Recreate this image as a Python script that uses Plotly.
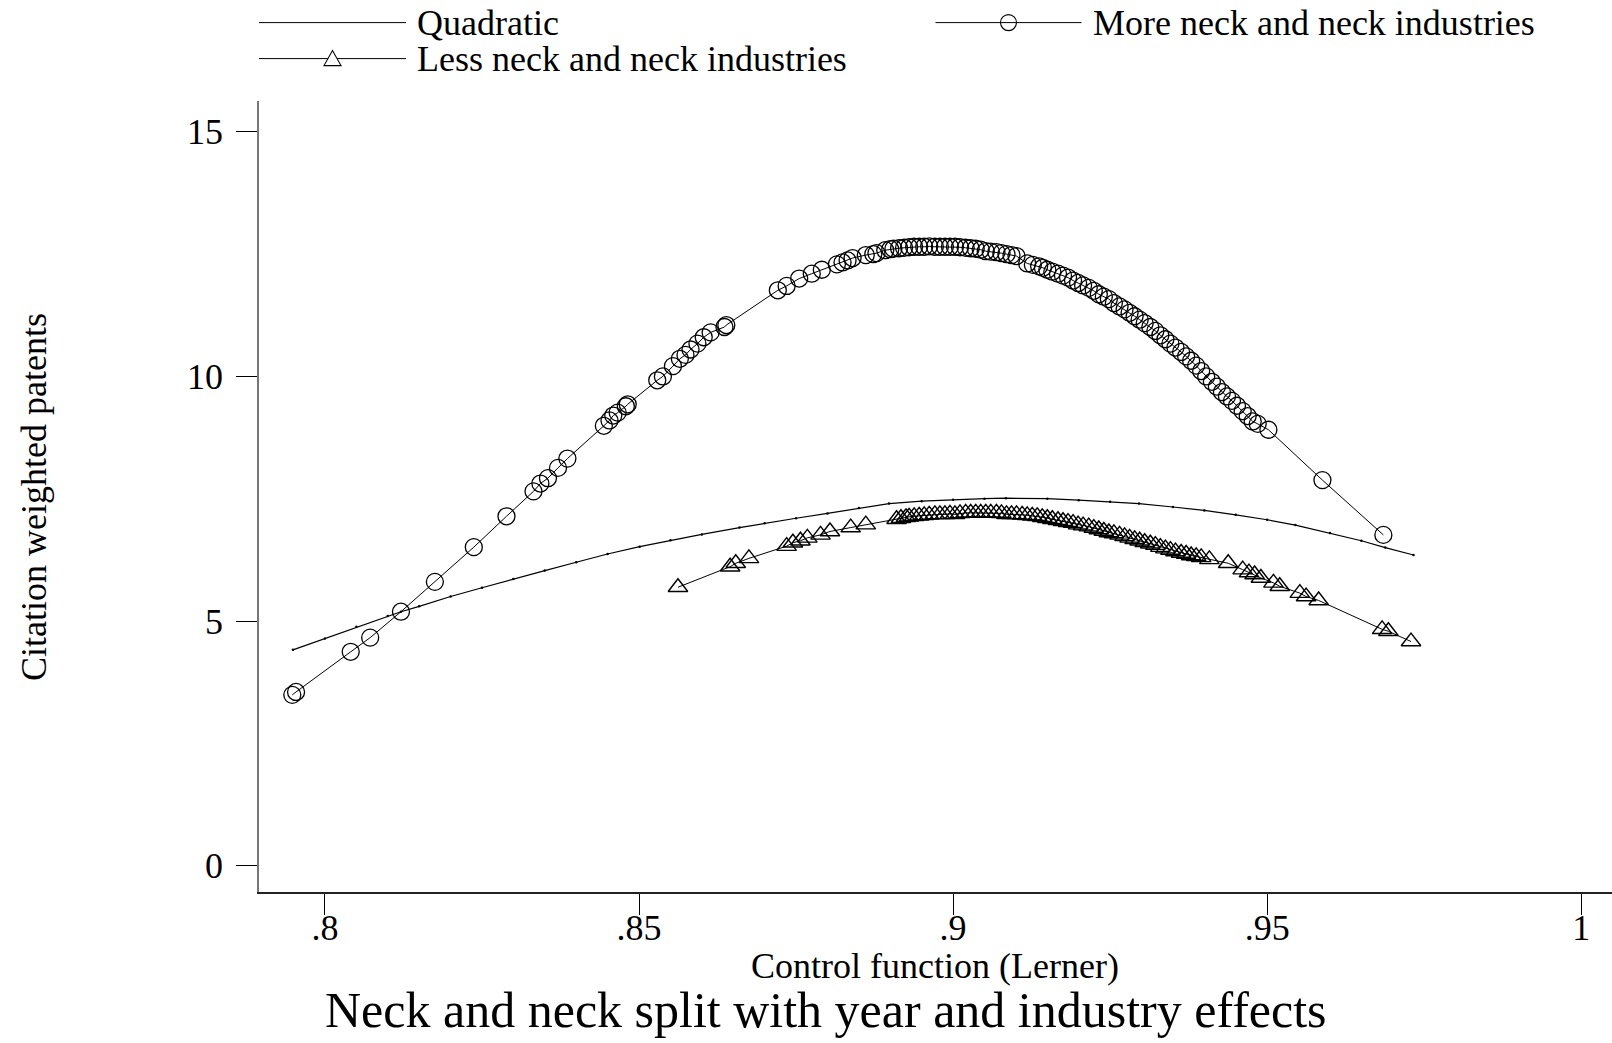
import plotly.graph_objects as go

FONT = "Liberation Serif, Times New Roman, serif"
W, H = 1612, 1043
L, R, T, B = 259, 0, 101, 151  # plot area margins in px

# Quadratic fit
quad_x = [0.7949, 0.8000, 0.8050, 0.8100, 0.8121, 0.8150, 0.8200, 0.8250, 0.8300, 0.8350,
          0.8400, 0.8450, 0.8501, 0.8550, 0.8600, 0.8660, 0.8700, 0.8750, 0.8800, 0.8850,
          0.8898, 0.8950, 0.9000, 0.9050, 0.9084, 0.9150, 0.9200, 0.9250, 0.9296, 0.9350,
          0.9400, 0.9450, 0.9500, 0.9545, 0.9600, 0.9650, 0.9688, 0.9733]
quad_y = [4.41, 4.64, 4.88, 5.10, 5.19, 5.30, 5.50, 5.68, 5.86, 6.03,
          6.20, 6.37, 6.52, 6.65, 6.77, 6.91, 7.00, 7.10, 7.20, 7.31,
          7.40, 7.45, 7.48, 7.50, 7.51, 7.50, 7.47, 7.44, 7.40, 7.33,
          7.26, 7.17, 7.07, 6.96, 6.80, 6.64, 6.50, 6.35]

# More neck and neck industries
more_x = [0.7948, 0.7954, 0.8041, 0.8072, 0.8121, 0.8175, 0.8237, 0.8289, 0.8332, 0.8343,
          0.8355, 0.8371, 0.8386, 0.8444, 0.8453, 0.8459, 0.8466, 0.8479, 0.8482, 0.8529,
          0.8538, 0.8554, 0.8565, 0.8574, 0.8582, 0.8593, 0.8603, 0.8614, 0.8636, 0.8639,
          0.8721, 0.8735, 0.8755, 0.8775, 0.8791, 0.8815, 0.8824, 0.8832, 0.8840, 0.8861,
          0.8873, 0.8878, 0.8892, 0.8900, 0.8905, 0.8914, 0.8922, 0.8930, 0.8938, 0.8946,
          0.8954, 0.8962, 0.8971, 0.8979, 0.8987, 0.8995, 0.9003, 0.9011, 0.9020, 0.9028,
          0.9036, 0.9044, 0.9052, 0.9060, 0.9069, 0.9077, 0.9085, 0.9093, 0.9101, 0.9118,
          0.9127, 0.9137, 0.9143, 0.9150, 0.9158, 0.9167, 0.9175, 0.9183, 0.9191, 0.9199,
          0.9207, 0.9216, 0.9224, 0.9232, 0.9240, 0.9248, 0.9256, 0.9265, 0.9273, 0.9281,
          0.9289, 0.9297, 0.9305, 0.9314, 0.9322, 0.9330, 0.9338, 0.9346, 0.9354, 0.9363,
          0.9371, 0.9379, 0.9387, 0.9395, 0.9403, 0.9412, 0.9420, 0.9428, 0.9436, 0.9444,
          0.9452, 0.9461, 0.9469, 0.9477, 0.9485, 0.9502, 0.9588, 0.9685]
more_y = [3.49, 3.55, 4.37, 4.66, 5.19, 5.80, 6.51, 7.14, 7.65, 7.81,
          7.92, 8.13, 8.32, 8.99, 9.10, 9.20, 9.26, 9.39, 9.43, 9.92,
          10.00, 10.21, 10.36, 10.44, 10.55, 10.67, 10.80, 10.90, 11.01, 11.05,
          11.76, 11.85, 12.00, 12.10, 12.18, 12.29, 12.33, 12.37, 12.42, 12.48,
          12.50, 12.52, 12.58, 12.60, 12.61, 12.62, 12.63, 12.64, 12.65, 12.65,
          12.65, 12.66, 12.65, 12.65, 12.65, 12.65, 12.65, 12.64, 12.63, 12.62,
          12.61, 12.59, 12.56, 12.55, 12.54, 12.52, 12.50, 12.48, 12.46, 12.31,
          12.28, 12.25, 12.22, 12.18, 12.14, 12.10, 12.06, 12.02, 11.96, 11.91,
          11.86, 11.81, 11.75, 11.68, 11.63, 11.58, 11.50, 11.43, 11.37, 11.30,
          11.23, 11.16, 11.09, 11.01, 10.93, 10.84, 10.76, 10.67, 10.59, 10.50,
          10.41, 10.32, 10.22, 10.11, 10.00, 9.89, 9.79, 9.68, 9.59, 9.50,
          9.40, 9.29, 9.19, 9.08, 9.03, 8.91, 7.88, 6.76]

# Less neck and neck industries
less_x = [0.8562, 0.8645, 0.8654, 0.8675, 0.8735, 0.8745, 0.8757, 0.8768, 0.8789, 0.8804,
          0.8837, 0.8861, 0.8910, 0.8917, 0.8925, 0.8930, 0.8938, 0.8946, 0.8954, 0.8962,
          0.8971, 0.8979, 0.8987, 0.8995, 0.9003, 0.9011, 0.9020, 0.9028, 0.9036, 0.9044,
          0.9052, 0.9060, 0.9069, 0.9077, 0.9085, 0.9093, 0.9101, 0.9110, 0.9118, 0.9126,
          0.9134, 0.9142, 0.9150, 0.9158, 0.9167, 0.9175, 0.9183, 0.9191, 0.9199, 0.9207,
          0.9216, 0.9224, 0.9232, 0.9240, 0.9248, 0.9256, 0.9265, 0.9273, 0.9281, 0.9289,
          0.9297, 0.9305, 0.9314, 0.9322, 0.9330, 0.9338, 0.9346, 0.9354, 0.9363, 0.9371,
          0.9379, 0.9387, 0.9395, 0.9408, 0.9438, 0.9461, 0.9471, 0.9480, 0.9490, 0.9510,
          0.9520, 0.9552, 0.9562, 0.9582, 0.9683, 0.9693, 0.9729]
less_y = [5.69, 6.11, 6.18, 6.28, 6.53, 6.60, 6.64, 6.70, 6.76, 6.83,
          6.91, 6.97, 7.08, 7.10, 7.12, 7.13, 7.14, 7.15, 7.16, 7.17,
          7.18, 7.18, 7.18, 7.19, 7.18, 7.20, 7.21, 7.21, 7.21, 7.21,
          7.21, 7.21, 7.21, 7.20, 7.18, 7.18, 7.18, 7.17, 7.16, 7.15,
          7.14, 7.12, 7.10, 7.08, 7.06, 7.04, 7.02, 7.00, 6.97, 6.95,
          6.93, 6.90, 6.87, 6.84, 6.81, 6.79, 6.76, 6.73, 6.70, 6.67,
          6.64, 6.61, 6.58, 6.55, 6.51, 6.48, 6.45, 6.42, 6.39, 6.37,
          6.34, 6.32, 6.30, 6.26, 6.18, 6.05, 5.99, 5.95, 5.88, 5.78,
          5.71, 5.57, 5.50, 5.42, 4.83, 4.79, 4.58]

x_ticks = [0.8, 0.85, 0.9, 0.95, 1.0]
x_tick_labels = [".8", ".85", ".9", ".95", "1"]
y_ticks = [0, 5, 10, 15]

PW, PH = W - L - R, H - T - B


def px(x):
    return (x - L) / PW


def py(y):
    return (H - B - y) / PH


fig = go.Figure()
fig.add_trace(go.Scatter(
    x=quad_x, y=quad_y, mode="lines+markers", name="Quadratic",
    line=dict(color="black", width=1.2),
    marker=dict(color="black", size=2.5),
))
fig.add_trace(go.Scatter(
    x=more_x, y=more_y, mode="lines+markers", name="More neck and neck industries",
    line=dict(color="black", width=1),
    marker=dict(symbol="circle-open", color="black", size=17, line=dict(width=1.3)),
))
fig.add_trace(go.Scatter(
    x=less_x, y=less_y, mode="lines+markers", name="Less neck and neck industries",
    line=dict(color="black", width=1),
    marker=dict(symbol="triangle-up-open", color="black", size=17, line=dict(width=1.4)),
))

# hand-drawn legend (Stata style, long line samples)
shapes = []
annotations = []
legend_items = [
    ("Quadratic", 259, 406, 22.6, "dot"),
    ("More neck and neck industries", 935.5, 1081.5, 22.6, "circle"),
    ("Less neck and neck industries", 259, 406, 58.6, "triangle"),
]
for label, x0, x1, yy, glyph in legend_items:
    shapes.append(dict(type="line", xref="paper", yref="paper",
                       x0=px(x0), x1=px(x1), y0=py(yy), y1=py(yy),
                       line=dict(color="black", width=1)))
    cx = (x0 + x1) / 2
    if glyph == "circle":
        r = 8
        shapes.append(dict(type="circle", xref="paper", yref="paper",
                           x0=px(cx - r), x1=px(cx + r), y0=py(yy - r), y1=py(yy + r),
                           line=dict(color="black", width=1.1), fillcolor="rgba(0,0,0,0)"))
    elif glyph == "triangle":
        path = "M {} {} L {} {} L {} {} Z".format(
            px(cx - 8.5), py(yy + 7), px(cx + 8.5), py(yy + 7), px(cx), py(yy - 8))
        shapes.append(dict(type="path", xref="paper", yref="paper", path=path,
                           line=dict(color="black", width=1.1), fillcolor="white"))
    annotations.append(dict(text=label, xref="paper", yref="paper",
                            x=px(x1 + 9), y=py(yy), xanchor="left", yanchor="middle",
                            showarrow=False, font=dict(family=FONT, size=36, color="black")))

annotations.append(dict(text="Citation weighted patents", xref="paper", yref="paper",
                        x=px(34), y=py(497), textangle=-90, xanchor="center", yanchor="middle",
                        showarrow=False, font=dict(family=FONT, size=36, color="black")))
annotations.append(dict(text="Control function (Lerner)", xref="paper", yref="paper",
                        x=px(935), y=py(966), xanchor="center", yanchor="middle",
                        showarrow=False, font=dict(family=FONT, size=36, color="black")))
annotations.append(dict(text="Neck and neck split with year and industry effects",
                        xref="paper", yref="paper", x=px(826), y=py(1010),
                        xanchor="center", yanchor="middle", showarrow=False,
                        font=dict(family=FONT, size=50, color="black")))

fig.update_layout(
    width=W, height=H,
    margin=dict(l=L, r=R, t=T, b=B),
    showlegend=False,
    plot_bgcolor="white",
    paper_bgcolor="white",
    font=dict(family=FONT, size=36, color="black"),
    shapes=shapes,
    annotations=annotations,
    xaxis=dict(
        range=[0.7895, 1.0049], tickvals=x_ticks, ticktext=x_tick_labels,
        showline=True, linecolor="#222", linewidth=1.5, showgrid=False, zeroline=False,
        ticks="outside", ticklen=21, tickwidth=1, tickcolor="black",
        tickfont=dict(family=FONT, size=36, color="black"), ticklabelstandoff=-18,
    ),
    yaxis=dict(
        range=[-0.54, 15.63], tickvals=y_ticks,
        showline=True, linecolor="#777", linewidth=1.5, showgrid=False, zeroline=False,
        ticks="outside", ticklen=21, tickwidth=1, tickcolor="black",
        tickfont=dict(family=FONT, size=36, color="black"), ticklabelstandoff=6,
    ),
)

fig.write_html("out.html", config={"displayModeBar": False},
               post_script="document.body.style.margin='0';")
